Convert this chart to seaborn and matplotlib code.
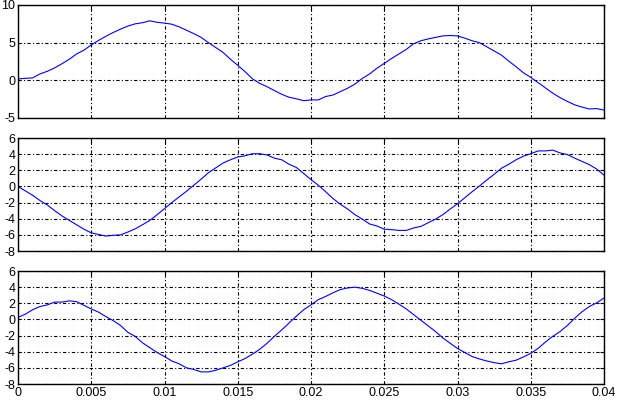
import matplotlib
matplotlib.use("Agg")
import matplotlib.pyplot as plt
import seaborn as sns

t = [i * 0.0005 for i in range(81)]

sig_top = [0.18, 0.27, 0.32, 0.85, 1.2, 1.65, 2.2, 2.8, 3.5, 4.0,
           4.7, 5.3, 5.85, 6.35, 6.8, 7.2, 7.5, 7.65, 7.9, 7.7,
           7.6, 7.45, 7.1, 6.65, 6.2, 5.7, 5.0, 4.35, 3.7, 2.8,
           2.0, 1.15, 0.2, -0.4, -0.85, -1.35, -1.85, -2.25, -2.45, -2.7,
           -2.6, -2.6, -2.15, -1.95, -1.5, -1.05, -0.5, 0.25, 0.85, 1.6,
           2.25, 2.9, 3.5, 4.1, 4.85, 5.25, 5.5, 5.7, 5.9, 5.95,
           5.9, 5.6, 5.25, 5.0, 4.45, 3.9, 3.35, 2.55, 1.8, 1.0,
           0.4, -0.3, -1.0, -1.7, -2.3, -2.8, -3.25, -3.55, -3.8, -3.75,
           -3.95]
sig_mid = [0.0, -0.55, -1.1, -1.75, -2.3, -3.0, -3.65, -4.2, -4.75, -5.3,
           -5.75, -5.95, -6.15, -6.05, -6.0, -5.65, -5.25, -4.75, -4.2, -3.5,
           -2.75, -2.0, -1.3, -0.6, 0.15, 0.9, 1.7, 2.3, 2.9, 3.3,
           3.65, 3.8, 4.05, 4.05, 3.9, 3.5, 3.3, 2.75, 2.35, 1.6,
           0.85, 0.15, -0.65, -1.5, -2.2, -2.8, -3.5, -4.05, -4.65, -4.9,
           -5.3, -5.35, -5.45, -5.45, -5.15, -4.95, -4.5, -4.05, -3.5, -2.8,
           -2.15, -1.4, -0.65, 0.05, 0.8, 1.5, 2.25, 2.75, 3.3, 3.75,
           4.05, 4.4, 4.4, 4.5, 4.15, 3.95, 3.5, 3.1, 2.7, 2.15,
           1.4]
sig_bot = [0.25, 0.65, 1.2, 1.6, 1.8, 2.15, 2.15, 2.3, 2.2, 1.75,
           1.3, 0.9, 0.35, -0.15, -0.75, -1.6, -2.1, -2.9, -3.5, -4.1,
           -4.6, -5.15, -5.5, -6.0, -6.2, -6.5, -6.5, -6.3, -6.0, -5.7,
           -5.25, -4.85, -4.3, -3.7, -2.95, -2.1, -1.3, -0.45, 0.4, 1.2,
           1.8, 2.45, 2.85, 3.3, 3.7, 3.9, 4.0, 3.85, 3.6, 3.25,
           2.9, 2.45, 1.9, 1.3, 0.6, -0.1, -0.8, -1.5, -2.3, -2.95,
           -3.6, -4.1, -4.6, -4.9, -5.15, -5.35, -5.5, -5.25, -5.05, -4.65,
           -4.2, -3.6, -2.8, -2.1, -1.5, -0.75, 0.15, 0.95, 1.6, 2.05,
           2.65]

xticks = [0, 0.005, 0.01, 0.015, 0.02, 0.025, 0.03, 0.035, 0.04]
xticklabels = ["0", "0.005", "0.01", "0.015", "0.02", "0.025", "0.03", "0.035", "0.04"]
yticks_top = [-5, 0, 5, 10]
yticks_other = [-8, -6, -4, -2, 0, 2, 4, 6]

sns.set_style("white")
plt.rcParams['font.family'] = ['Liberation Sans', 'DejaVu Sans']

fig = plt.figure(figsize=(6.32, 4.15), dpi=100)
left = 18 / 632
width = 586 / 632
height = 113 / 415
bottoms = [1 - 118 / 415, 1 - 251 / 415, 1 - 384 / 415]
series = [sig_top, sig_mid, sig_bot]
ylims = [(-5, 10), (-8, 6), (-8, 6)]
yticks_all = [yticks_top, yticks_other, yticks_other]

for i in range(3):
    ax = fig.add_axes([left, bottoms[i], width, height])
    sns.lineplot(x=t, y=series[i], ax=ax, color="#0000ff", linewidth=0.8)
    ax.set_xlim(0, 0.04)
    ax.set_ylim(*ylims[i])
    ax.set_xticks(xticks)
    ax.set_yticks(yticks_all[i])
    ax.set_yticklabels([str(v) for v in yticks_all[i]])
    if i == 2:
        ax.set_xticklabels(xticklabels)
    else:
        ax.set_xticklabels([])
    ax.grid(True, color="black", linestyle=(0, (3, 2, 1, 2)), linewidth=0.8)
    ax.tick_params(direction="in", length=3, width=0.8, labelsize=9,
                   colors="black", top=True, right=True, pad=2)
    for s in ax.spines.values():
        s.set_color("black")
        s.set_linewidth(1.0)
        s.set_visible(True)
    ax.set_xlabel("")
    ax.set_ylabel("")

fig.savefig("out.png", dpi=100)
